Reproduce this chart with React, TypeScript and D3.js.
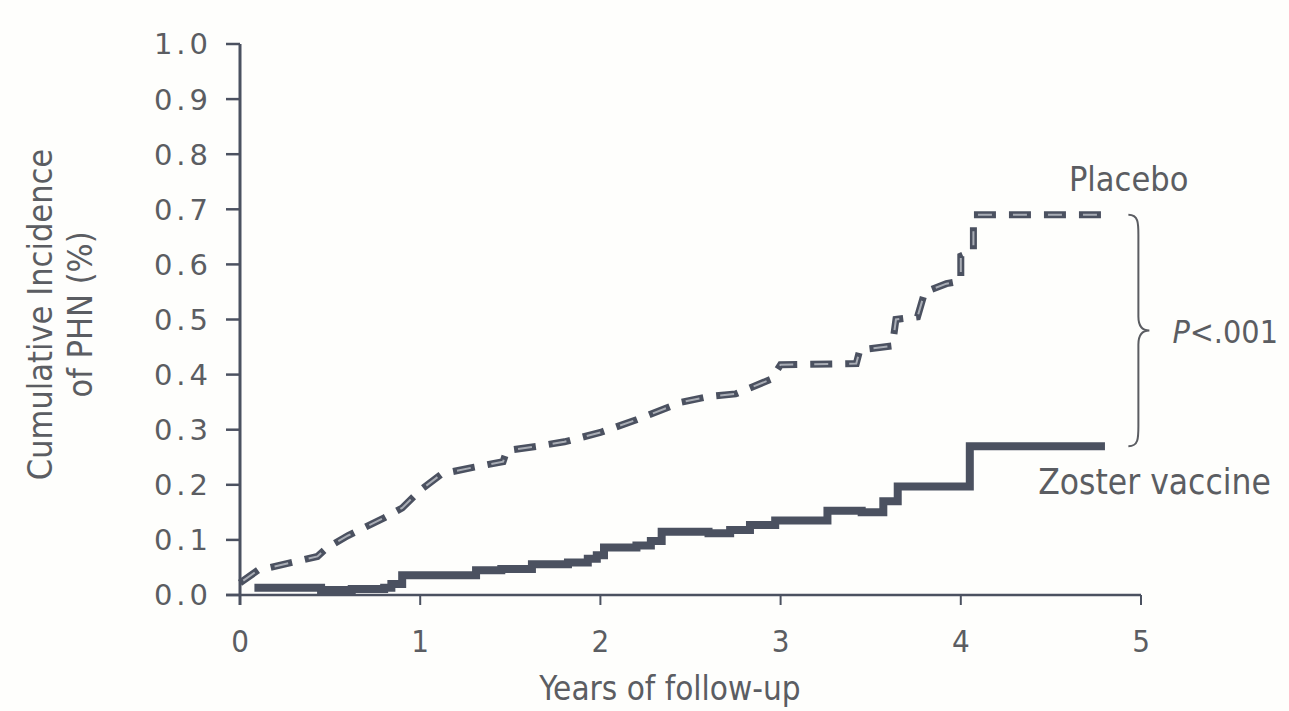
import * as d3 from "d3";

// Cumulative incidence of PHN (%)
// placebo: vertices of the dashed curve (many tiny steps, drawn as a polyline)
const placebo: [number, number][] = [
  [0, 0.022], [0.1, 0.045], [0.3, 0.06], [0.43, 0.07], [0.48, 0.085],
  [0.6, 0.108], [0.8, 0.14], [0.9, 0.158], [1.0, 0.19], [1.12, 0.22],
  [1.3, 0.232], [1.46, 0.242], [1.48, 0.262], [1.65, 0.27], [1.8, 0.278],
  [2.0, 0.295], [2.2, 0.318], [2.45, 0.35], [2.6, 0.36], [2.75, 0.365],
  [2.95, 0.392], [3.0, 0.418], [3.42, 0.42], [3.44, 0.445], [3.62, 0.452],
  [3.64, 0.5], [3.76, 0.505], [3.8, 0.55], [3.92, 0.565], [4.0, 0.57],
  [4.0, 0.615], [4.07, 0.625], [4.07, 0.69], [4.8, 0.69],
];

// zoster vaccine: Kaplan-Meier steps
const zoster: [number, number][] = [
  [0.08, 0.013], [0.45, 0.009], [0.62, 0.011], [0.8, 0.013], [0.84, 0.02],
  [0.9, 0.036], [1.31, 0.045], [1.45, 0.047], [1.62, 0.056], [1.82, 0.059],
  [1.93, 0.066], [1.98, 0.072], [2.02, 0.086], [2.2, 0.09], [2.28, 0.098],
  [2.34, 0.115], [2.6, 0.112], [2.72, 0.118], [2.83, 0.127], [2.97, 0.135],
  [3.26, 0.153], [3.45, 0.15], [3.57, 0.17], [3.65, 0.197], [4.05, 0.27],
  [4.8, 0.27],
];

const yTicks = [0, 0.1, 0.2, 0.3, 0.4, 0.5, 0.6, 0.7, 0.8, 0.9, 1.0];
const xTicks = [0, 1, 2, 3, 4, 5];

const W = 1289;
const H = 711;
const ink = "#4b5160";
const textCol = "#5b5d62";
const labelFont = "'DejaVu Sans Condensed', 'DejaVu Sans', sans-serif";

export default function App() {
  const x = d3.scaleLinear().domain([0, 5]).range([240, 1141]);
  const y = d3.scaleLinear().domain([0, 1]).range([595, 44]);

  const stepLine = d3
    .line<[number, number]>()
    .x((d) => x(d[0]))
    .y((d) => y(d[1]))
    .curve(d3.curveStepAfter);

  const polyLine = d3
    .line<[number, number]>()
    .x((d) => x(d[0]))
    .y((d) => y(d[1]));

  // brace between the two end values
  const bTop = y(0.69);
  const bBot = y(0.27);
  const bMid = (bTop + bBot) / 2;
  const bx0 = x(4.93);
  const bx1 = bx0 + 10;
  const bTip = bx0 + 21;
  const brace = `M${bx0},${bTop} C${bx1},${bTop} ${bx1},${bTop + 8} ${bx1},${bTop + 20}
    L${bx1},${bMid - 14} C${bx1},${bMid - 4} ${bx1 + 4},${bMid} ${bTip},${bMid}
    C${bx1 + 4},${bMid} ${bx1},${bMid + 4} ${bx1},${bMid + 14}
    L${bx1},${bBot - 20} C${bx1},${bBot - 8} ${bx1},${bBot} ${bx0},${bBot}`;

  const placeboPath = polyLine(placebo) ?? "";

  return (
    <svg
      width={W}
      height={H}
      style={{ position: "absolute", left: 0, top: 0, background: "#fefefc" }}
    >
      {/* y axis */}
      <line x1={x(0)} x2={x(0)} y1={y(1)} y2={y(0) + 10} stroke={ink} strokeWidth={3} />
      {yTicks.map((t) => (
        <g key={t}>
          <line x1={x(0) - 14} x2={x(0)} y1={y(t)} y2={y(t)} stroke={ink} strokeWidth={2.5} />
          <text
            x={212}
            y={y(t)}
            dy="0.36em"
            textAnchor="end"
            fontFamily="'DejaVu Sans', sans-serif"
            fontSize={29}
            letterSpacing={4}
            fill={textCol}
          >
            {d3.format(".1f")(t)}
          </text>
        </g>
      ))}

      {/* x axis */}
      <line x1={x(0) - 14} x2={x(5)} y1={y(0)} y2={y(0)} stroke={ink} strokeWidth={2.5} />
      {xTicks.map((t) => (
        <g key={t}>
          <line x1={x(t)} x2={x(t)} y1={y(0)} y2={y(0) + 10} stroke={ink} strokeWidth={2} />
          <text
            x={x(t)}
            y={y(0) + 57}
            textAnchor="middle"
            fontFamily={labelFont}
            fontSize={31}
            fill={textCol}
          >
            {t}
          </text>
        </g>
      ))}

      {/* axis titles */}
      <text
        x={670}
        y={700}
        textAnchor="middle"
        fontFamily={labelFont}
        fontSize={33}
        fill={textCol}
      >
        Years of follow-up
      </text>
      <g transform={`translate(52, ${y(0.5) - 5}) rotate(-90)`}>
        <text textAnchor="middle" fontFamily={labelFont} fontSize={34} fill={textCol}>
          Cumulative Incidence
        </text>
        <text y={40} textAnchor="middle" fontFamily={labelFont} fontSize={34} fill={textCol}>
          of PHN (%)
        </text>
      </g>

      {/* curves */}
      <path d={stepLine(zoster) ?? ""} fill="none" stroke={ink} strokeWidth={8} />
      <path
        d={placeboPath}
        fill="none"
        stroke={ink}
        strokeWidth={7}
        strokeDasharray="22 13"
      />
      <path
        d={placeboPath}
        fill="none"
        stroke="#a9adb5"
        strokeWidth={2}
        strokeDasharray="0 4 14 17"
      />

      {/* annotations */}
      <path d={brace} fill="none" stroke={textCol} strokeWidth={2} />
      <text x={x(4.6)} y={y(0.69) - 24} fontFamily={labelFont} fontSize={34} fill={textCol}>
        Placebo
      </text>
      <text x={x(4.43)} y={y(0.27) + 48} fontFamily={labelFont} fontSize={35} fill={textCol}>
        Zoster vaccine
      </text>
      <text x={bTip + 23} y={bMid + 12} fontFamily={labelFont} fontSize={32} fill={textCol}>
        <tspan fontStyle="italic">P</tspan>&lt;.001
      </text>
    </svg>
  );
}
